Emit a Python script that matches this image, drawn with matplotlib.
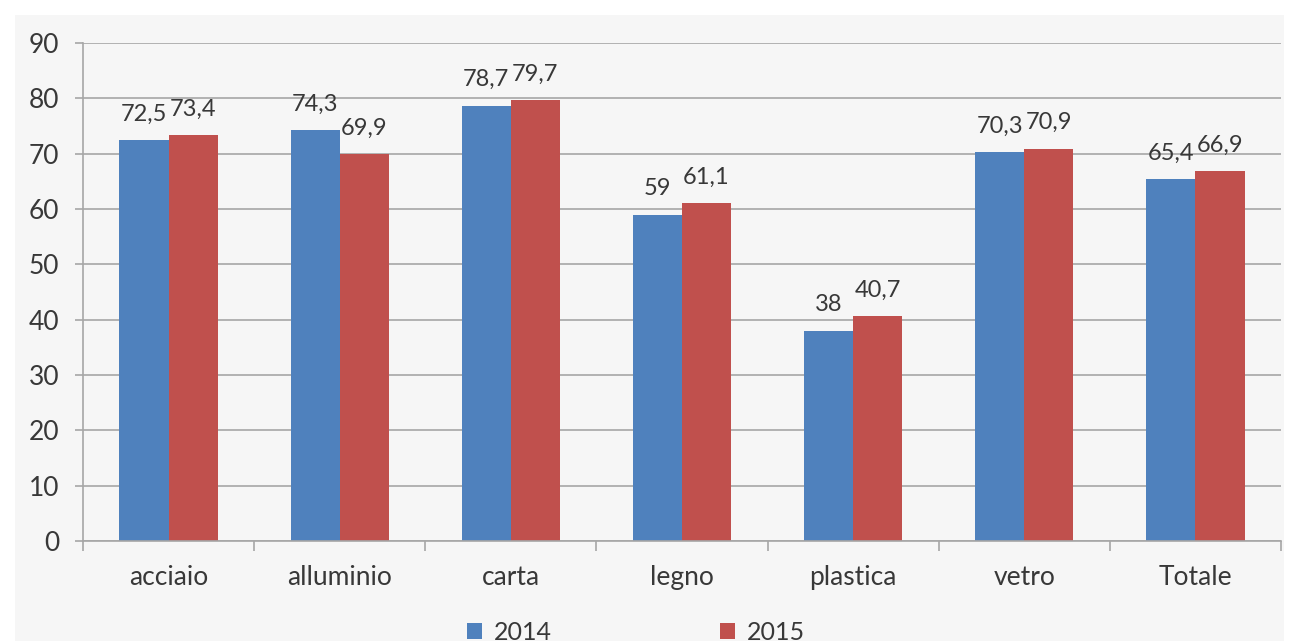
import numpy as np
import matplotlib
matplotlib.use('Agg')
from matplotlib import pyplot as plt
from matplotlib.patches import Rectangle

plt.rcParams['font.family'] = ['Lato', 'DejaVu Sans']

categorie = ['acciaio', 'alluminio', 'carta', 'legno', 'plastica', 'vetro', 'Totale']
val_2014 = [72.5, 74.3, 78.7, 59, 38, 70.3, 65.4]
val_2015 = [73.4, 69.9, 79.7, 61.1, 40.7, 70.9, 66.9]
anni = ['2014', '2015']

blu = '#4F81BD'
rosso = '#C0504D'
grigio_testo = '#383838'
grigio_linee = '#a6a6a6'


def etichetta(v):
    # virgola come separatore decimale
    if float(v).is_integer():
        return str(int(v))
    return ('%.1f' % v).replace('.', ',')


fig = plt.figure(figsize=(12.93, 6.41), dpi=100)
fig.patch.set_facecolor('white')
# pannello grigio chiaro dietro al grafico
fig.add_artist(Rectangle((15 / 1293, 0), (1284 - 15) / 1293, 1 - 15 / 641,
                         transform=fig.transFigure, facecolor='#f6f6f6',
                         edgecolor='none', zorder=-10))

ax = fig.add_axes([83 / 1293, 1 - 541 / 641, (1281 - 83) / 1293, (541 - 43) / 641])
ax.set_facecolor('none')

x = np.arange(len(categorie))
w = 0.287
b1 = ax.bar(x - w / 2, val_2014, w, color=blu, label=anni[0], zorder=3)
b2 = ax.bar(x + w / 2, val_2015, w, color=rosso, label=anni[1], zorder=3)

for bars, vals in [(b1, val_2014), (b2, val_2015)]:
    for r, v in zip(bars, vals):
        ax.annotate(etichetta(v), (r.get_x() + r.get_width() / 2, v),
                    xytext=(0, 14), textcoords='offset points',
                    ha='center', va='baseline', fontsize=17, color=grigio_testo)

ax.set_ylim(0, 90)
ax.set_yticks(range(0, 91, 10))
ax.set_xlim(-0.5, len(categorie) - 0.5)
ax.set_xticks(x)
ax.set_xticklabels(categorie)
ax.set_xticks(np.arange(-0.5, len(categorie), 1), minor=True)

ax.grid(axis='y', color=grigio_linee, linewidth=1.2, zorder=0)
for s in ['top', 'right']:
    ax.spines[s].set_visible(False)
for s in ['left', 'bottom']:
    ax.spines[s].set_color(grigio_linee)
    ax.spines[s].set_linewidth(1.2)
    ax.spines[s].set_zorder(4)

ax.tick_params(axis='y', length=6, width=1.2, color=grigio_linee, pad=11,
               labelsize=19, labelcolor=grigio_testo)
ax.tick_params(axis='x', which='major', length=0, pad=17,
               labelsize=19, labelcolor=grigio_testo)
ax.tick_params(axis='x', which='minor', length=7, width=1.2, color=grigio_linee)

leg = fig.legend(handles=[b1, b2], labels=anni, loc='center', ncol=2,
                 bbox_to_anchor=(0.492, 0.014), frameon=False, fontsize=18,
                 handlelength=0.6, handleheight=0.6, handletextpad=0.5,
                 columnspacing=6.7, labelcolor=grigio_testo)

plt.savefig('out.png', dpi=100)
